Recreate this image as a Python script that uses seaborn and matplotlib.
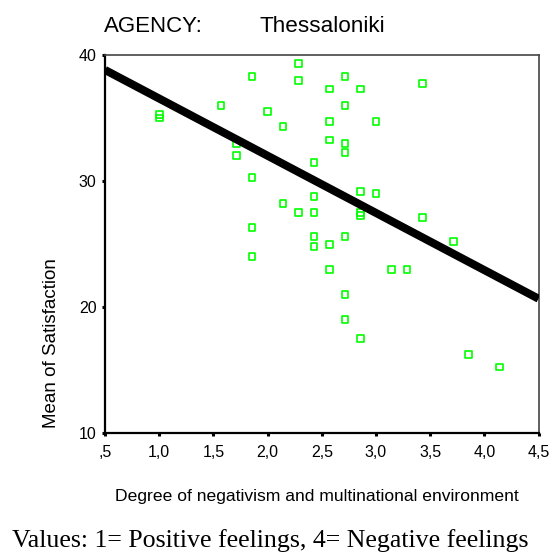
import matplotlib
matplotlib.use("Agg")
import matplotlib.pyplot as plt
import pandas as pd
import seaborn as sns

# Per-respondent scores: mean of the 7 negativism items vs. satisfaction
negativism = [
    1.000, 1.000, 1.571, 1.714, 1.714, 1.857, 1.857, 1.857, 1.857, 2.000,
    2.143, 2.143, 2.286, 2.286, 2.286, 2.429, 2.429, 2.429, 2.429, 2.429,
    2.571, 2.571, 2.571, 2.571, 2.571, 2.714, 2.714, 2.714, 2.714, 2.714,
    2.714, 2.714, 2.857, 2.857, 2.857, 2.857, 2.857, 3.000, 3.000, 3.143,
    3.286, 3.429, 3.429, 3.714, 3.857, 4.143,
]
satisfaction = [
    35.3, 35.0, 36.0, 33.0, 32.0, 38.3, 30.3, 26.3, 24.0, 35.5,
    34.3, 28.25, 39.3, 38.0, 27.5, 31.5, 28.8, 27.5, 25.6, 24.8,
    37.3, 34.7, 33.25, 25.0, 23.0, 38.3, 36.0, 33.0, 32.25, 25.6,
    21.0, 19.0, 37.3, 29.2, 27.5, 27.25, 17.5, 34.7, 29.0, 23.0,
    23.0, 37.75, 27.1, 25.2, 16.25, 15.25,
]

x_ticks = [0.5, 1.0, 1.5, 2.0, 2.5, 3.0, 3.5, 4.0, 4.5]
x_tick_labels = [",5", "1,0", "1,5", "2,0", "2,5", "3,0", "3,5", "4,0", "4,5"]
y_ticks = [10, 20, 30, 40]
y_tick_labels = ["10", "20", "30", "40"]

agency = "Thessaloniki"
x_title = "Degree of negativism and multinational environment"
y_title = "Mean of Satisfaction"
note = "Values: 1= Positive feelings, 4= Negative feelings"

df = pd.DataFrame({"negativism": negativism, "satisfaction": satisfaction})

sns.set_theme(style="ticks")
plt.rcParams["font.family"] = ["Liberation Sans", "DejaVu Sans"]

fig = plt.figure(figsize=(5.49, 5.54), dpi=100)
ax = fig.add_axes([0.1913, 0.2179, 0.7896, 0.6829])
ax.set_xlim(x_ticks[0], x_ticks[-1])
ax.set_ylim(y_ticks[0], y_ticks[-1])

sns.scatterplot(
    data=df, x="negativism", y="satisfaction", ax=ax,
    marker="s", s=24, color="#00ff00", facecolor="none",
    edgecolor="#00ff00", linewidth=1.2, zorder=2,
)
# Least-squares fit, extended across the full x range
sns.regplot(
    data=df, x="negativism", y="satisfaction", ax=ax,
    scatter=False, ci=None, truncate=False, color="black",
    line_kws=dict(linewidth=5.8, solid_capstyle="butt", zorder=3),
)
ax.set_xlim(x_ticks[0], x_ticks[-1])
ax.set_ylim(y_ticks[0], y_ticks[-1])

ax.set_xticks(x_ticks)
ax.set_xticklabels(x_tick_labels)
ax.set_yticks(y_ticks)
ax.set_yticklabels(y_tick_labels)
ax.tick_params(axis="both", direction="out", length=2.5, width=2.2,
               color="black", labelsize=11.5, labelcolor="black")
ax.tick_params(axis="x", pad=6)
ax.tick_params(axis="y", pad=3.5)

for side in ("left", "bottom"):
    ax.spines[side].set_color("black")
    ax.spines[side].set_linewidth(1.6)
for side in ("top", "right"):
    ax.spines[side].set_visible(True)
    ax.spines[side].set_color("#444444")
    ax.spines[side].set_linewidth(1.2)

ax.set_xlabel(x_title, fontsize=12.6, color="black")
ax.xaxis.label.set_va("center")
ax.xaxis.set_label_coords(0.489, -0.168)
ax.set_ylabel(y_title, fontsize=13.5, color="black")
ax.yaxis.label.set_va("center")
ax.yaxis.set_label_coords(-0.123, 0.239)

fig.text(104 / 549, 0.9428, "AGENCY:", fontsize=16, color="black",
         ha="left", va="baseline")
fig.text(260 / 549, 0.9428, agency, fontsize=16.2, color="black",
         ha="left", va="baseline")
fig.text(12 / 549, 0.0135, note, fontsize=18.6, color="black",
         family=["Liberation Serif", "DejaVu Serif"], ha="left", va="baseline")

fig.savefig("out.png", dpi=100)
